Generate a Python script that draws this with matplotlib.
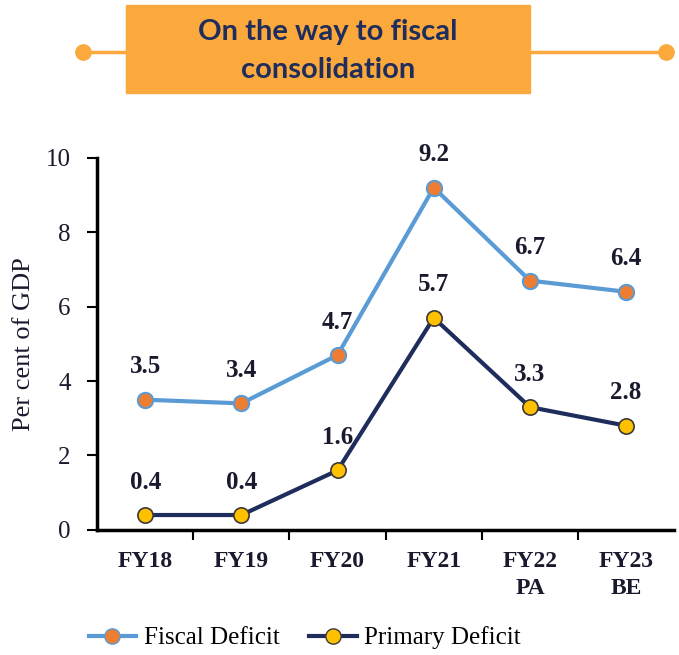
import numpy as np
import matplotlib.pyplot as plt
from matplotlib.patches import Rectangle
from matplotlib.lines import Line2D

years = ['FY18', 'FY19', 'FY20', 'FY21', 'FY22\nPA', 'FY23\nBE']
fiscal = [3.5, 3.4, 4.7, 9.2, 6.7, 6.4]
primary = [0.4, 0.4, 1.6, 5.7, 3.3, 2.8]
title = 'On the way to fiscal\nconsolidation'

orange = '#FBA83C'
navy = '#1F2D5C'
ink = '#1a1a2e'
serif = 'Liberation Serif'

fig = plt.figure(figsize=(6.79, 6.55), dpi=100)
ax = fig.add_axes([0.143, 0.191, 0.85, 0.568])

x = np.arange(len(years))
ax.plot(x, fiscal, color='#5B9BD5', lw=3, marker='o', ms=11,
        mfc='#ED7D31', mec='#5B9BD5', mew=1.5, label='Fiscal Deficit', zorder=3)
ax.plot(x, primary, color=navy, lw=3, marker='o', ms=11,
        mfc='#FFC000', mec='#3a3a3a', mew=1.2, label='Primary Deficit', zorder=3)

# value labels above the points
for series in (fiscal, primary):
    for xi, v in zip(x, series):
        ax.annotate(f'{v}', (xi, v), xytext=(0, 19), textcoords='offset points',
                    ha='center', va='baseline', fontsize=18, fontweight='bold',
                    family=serif, color=ink)

ax.set_xlim(-0.5, 5.5)
ax.set_ylim(0, 10)
ax.set_yticks([0, 2, 4, 6, 8, 10])
ax.set_xticks(x)
ax.set_xticklabels(years, family=serif, fontsize=17, fontweight='bold', color=ink,
                   linespacing=1.4)
ax.tick_params(axis='x', length=0, pad=15)
ax.set_xticks(np.arange(0.5, 5.0, 1.0), minor=True)
ax.tick_params(axis='x', which='minor', length=7, width=1.5, direction='out')
ax.tick_params(axis='y', length=7, width=1.5, direction='out', labelsize=18, pad=12)
for lab in ax.get_yticklabels():
    lab.set_family(serif)
    lab.set_color(ink)
ax.set_ylabel('Per cent of GDP', family=serif, fontsize=19, color=ink, labelpad=8)

for s in ['top', 'right']:
    ax.spines[s].set_visible(False)
for s in ['left', 'bottom']:
    ax.spines[s].set_linewidth(2.5)

handles = [
    Line2D([], [], color='#5B9BD5', lw=3, marker='o', ms=11, mfc='#ED7D31', mec='#5B9BD5'),
    Line2D([], [], color=navy, lw=3, marker='o', ms=11, mfc='#FFC000', mec='#3a3a3a'),
]
fig.legend(handles, ['Fiscal Deficit', 'Primary Deficit'], loc='center',
           bbox_to_anchor=(0.449, 0.026), ncol=2, frameon=False, handlelength=1.9,
           handletextpad=0.3, columnspacing=1.2, prop={'family': serif, 'size': 18})

# title banner
yb = 1 - 52 / 655
fig.add_artist(Line2D([80 / 679, 126 / 679], [yb, yb], color=orange, lw=2.5))
fig.add_artist(Line2D([530 / 679, 668 / 679], [yb, yb], color=orange, lw=2.5))
fig.add_artist(Line2D([83 / 679], [yb], marker='o', ms=11, color=orange))
fig.add_artist(Line2D([666 / 679], [yb], marker='o', ms=11, color=orange))
fig.add_artist(Rectangle((126 / 679, 1 - 93 / 655), 404 / 679, 88 / 655,
                         transform=fig.transFigure, color=orange))
fig.text(328 / 679, 1 - 51 / 655, title, ha='center', va='center', fontsize=21,
         fontweight='bold', family='Lato', color=navy, linespacing=1.6)

fig.savefig('out.png', dpi=100)
